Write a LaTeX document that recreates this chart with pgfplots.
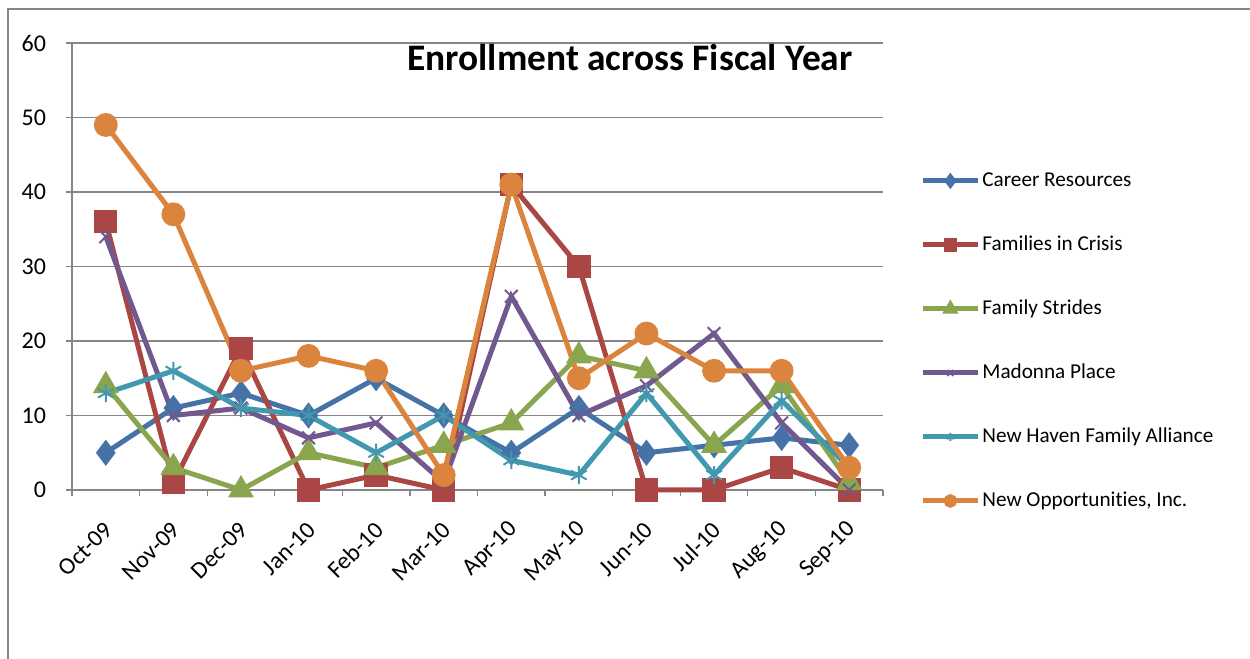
\documentclass[border=0pt]{standalone}
\usepackage{pgfplots}
\pgfplotsset{compat=1.18}
\usepackage{fontspec}
\setmainfont{Carlito}[Ligatures=NoCommon]
\definecolor{cBlue}{HTML}{4572A7}
\definecolor{cRed}{HTML}{AA4643}
\definecolor{cGreen}{HTML}{89A54E}
\definecolor{cPurple}{HTML}{71588F}
\definecolor{cCyan}{HTML}{4198AF}
\definecolor{cOrange}{HTML}{DB843D}
\definecolor{cGrid}{HTML}{868686}
\begin{document}
\begin{tikzpicture}
\path[use as bounding box] (0,0) rectangle (625pt,329.5pt);
\clip (0,0) rectangle (625pt,329.5pt);
\draw[cGrid, line width=0.6pt] (4pt,-10pt) -- (4pt,325pt) -- (640pt,325pt);
\begin{axis}[
  at={(36pt,84.5pt)}, anchor=south west,
  scale only axis, width=405.5pt, height=223.5pt,
  xmin=-0.5, xmax=11.5, ymin=0, ymax=60,
  axis x line=bottom, axis y line=left,
  axis line style={cGrid, line width=0.6pt, -},
  ytick={0,10,...,60},
  ymajorgrids, grid style={cGrid, line width=0.6pt},
  tick align=outside, major tick length=3pt,
  tick style={cGrid, line width=0.6pt},
  xtick={-0.5,0.5,...,11.5}, xticklabels={},
  extra x ticks={0,1,...,11},
  extra x tick labels={Oct-09,Nov-09,Dec-09,Jan-10,Feb-10,Mar-10,Apr-10,May-10,Jun-10,Jul-10,Aug-10,Sep-10},
  extra x tick style={major tick length=0pt, grid=none,
     tick label style={rotate=45, anchor=east, xshift=-8.3pt, yshift=-13.7pt}},
  /pgf/number format/assume math mode=true,
  ticklabel style={font=\fontsize{12}{14}\selectfont, text=black},
  yticklabel style={xshift=-6.5pt},
  clip=false,
  legend style={at={(1.0456,0.718)}, anchor=north west, draw=none, fill=none,
     inner sep=0pt, row sep=20.5pt, font=\fontsize{10.6}{12}\selectfont,
     nodes={text height=7.5pt, text depth=2pt, inner sep=1pt},
     cells={anchor=west}},
  legend image code/.code={\draw[mark repeat=2,mark phase=2,#1,every mark/.append style={scale=0.45}] plot coordinates {(0pt,0pt) (13.75pt,0pt) (27.5pt,0pt)};},
  every axis plot/.append style={line width=2.5pt},
]
\addplot[cBlue, mark=diamond*, mark size=4.5pt, mark options={solid}] coordinates {
(0,5) (1,11) (2,13) (3,10) (4,15) (5,10) (6,5) (7,11) (8,5) (9,6) (10,7) (11,6)};
\addlegendentry{Career Resources}
\addplot[cRed, mark=square*, mark size=4.6pt] coordinates {
(0,36) (1,1) (2,19) (3,0) (4,2) (5,0) (6,41) (7,30) (8,0) (9,0) (10,3) (11,0)};
\addlegendentry{Families in Crisis}
\addplot[cGreen, mark=triangle*, mark size=5pt] coordinates {
(0,14) (1,3) (2,0) (3,5) (4,3) (5,6) (6,9) (7,18) (8,16) (9,6) (10,14) (11,1)};
\addlegendentry{Family Strides}
\addplot[cPurple, mark=x, mark size=4.5pt, mark options={line width=1pt}] coordinates {
(0,34) (1,10) (2,11) (3,7) (4,9) (5,1) (6,26) (7,10) (8,14) (9,21) (10,9) (11,0)};
\addlegendentry{Madonna Place}
\addplot[cCyan, mark=asterisk, mark size=4.5pt, mark options={line width=1pt}] coordinates {
(0,13) (1,16) (2,11) (3,10) (4,5) (5,10) (6,4) (7,2) (8,13) (9,2) (10,12) (11,3)};
\addlegendentry{New Haven Family Alliance}
\addplot[cOrange, mark=*, mark size=4.7pt] coordinates {
(0,49) (1,37) (2,16) (3,18) (4,16) (5,2) (6,41) (7,15) (8,21) (9,16) (10,16) (11,3)};
\addlegendentry{New Opportunities, Inc.}
\node[anchor=north, inner sep=0pt, font=\fontsize{18.7}{22}\bfseries\selectfont] at (rel axis cs:0.688,0.997) {Enrollment across Fiscal Year};
\end{axis}
\end{tikzpicture}
\end{document}
